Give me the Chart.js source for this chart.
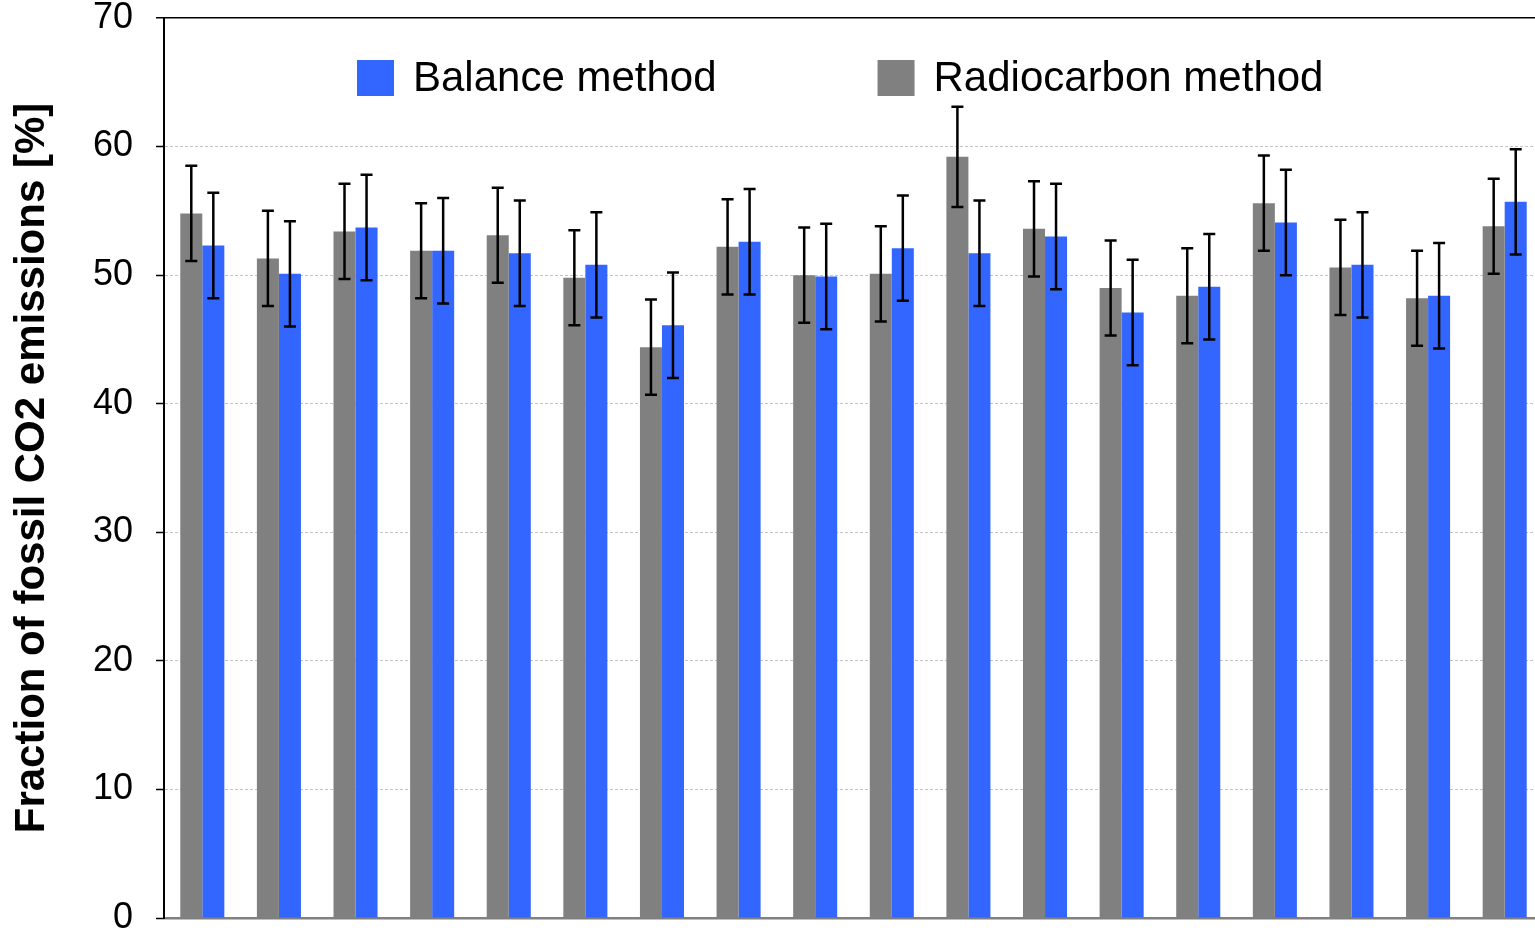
<!DOCTYPE html>
<html>
<head>
<meta charset="utf-8">
<script src="https://cdn.jsdelivr.net/npm/chart.js@4.4.1/dist/chart.umd.min.js"></script>
<style>
	html, body { margin: 0; padding: 0; background: #fff; overflow: hidden; }
	#wrap { width: 1545px; height: 937px; }
</style>
</head>
<body>
<div id="wrap"><canvas id="chart" width="1545" height="937"></canvas></div>
<script>
// Sites (no labels are printed on the original x axis)
const categories = ["1", "2", "3", "4", "5", "6", "7", "8", "9", "10", "11", "12", "13", "14", "15", "16", "17", "18"];

// Radiocarbon method (grey) and its uncertainty
const radiocarbon = [54.8, 51.3, 53.4, 51.9, 53.1, 49.8, 44.4, 52.2, 50.0, 50.1, 59.2, 53.6, 49.0, 48.4, 55.6, 50.6, 48.2, 53.8];
const radiocarbonErr = [3.7, 3.7, 3.7, 3.7, 3.7, 3.7, 3.7, 3.7, 3.7, 3.7, 3.9, 3.7, 3.7, 3.7, 3.7, 3.7, 3.7, 3.7];

// Balance method (blue) and its uncertainty
const balance = [52.3, 50.1, 53.7, 51.9, 51.7, 50.8, 46.1, 52.6, 49.9, 52.1, 51.7, 53.0, 47.1, 49.1, 54.1, 50.8, 48.4, 55.7];
const balanceErr = [4.1, 4.1, 4.1, 4.1, 4.1, 4.1, 4.1, 4.1, 4.1, 4.1, 4.1, 4.1, 4.1, 4.1, 4.1, 4.1, 4.1, 4.1];

const yTicks = [0, 10, 20, 30, 40, 50, 60, 70];

// error bars drawn from each bar element and the y scale
const errorBars = {
	id: "errorBars",
	afterDatasetsDraw(chart) {
		const ctx = chart.ctx;
		const y = chart.scales.y;
		ctx.save();
		ctx.strokeStyle = "#000";
		ctx.lineWidth = 2.5;
		chart.data.datasets.forEach((ds, di) => {
			const meta = chart.getDatasetMeta(di);
			meta.data.forEach((bar, i) => {
				const v = ds.data[i];
				const e = ds.errors[i];
				const top = y.getPixelForValue(v + e);
				const bot = y.getPixelForValue(v - e);
				ctx.beginPath();
				ctx.moveTo(bar.x, top);
				ctx.lineTo(bar.x, bot);
				ctx.moveTo(bar.x - 6, top);
				ctx.lineTo(bar.x + 6, top);
				ctx.moveTo(bar.x - 6, bot);
				ctx.lineTo(bar.x + 6, bot);
				ctx.stroke();
			});
		});
		ctx.restore();
	},
};

// legend inside the plot, blue item first
const insideLegend = {
	id: "insideLegend",
	afterDraw(chart) {
		const ctx = chart.ctx;
		const area = chart.chartArea;
		const items = chart.data.datasets.slice().reverse();
		let x = area.left + 193;
		const yMid = area.top + 60;
		ctx.save();
		ctx.font = "42px 'Liberation Sans', Arial, sans-serif";
		ctx.textBaseline = "middle";
		ctx.textAlign = "left";
		items.forEach((ds) => {
			ctx.fillStyle = ds.backgroundColor;
			ctx.fillRect(x, yMid - 18, 37, 36);
			ctx.fillStyle = "#000";
			ctx.fillText(ds.label, x + 56, yMid + 1);
			x += 56 + ctx.measureText(ds.label).width + 161;
		});
		ctx.restore();
	},
};

const chart = new Chart(document.getElementById("chart").getContext("2d"), {
	type: "bar",
	data: {
		labels: categories,
		datasets: [
			{
				label: "Radiocarbon method",
				data: radiocarbon,
				errors: radiocarbonErr,
				backgroundColor: "#808080",
				categoryPercentage: 0.575,
				barPercentage: 1.0,
			},
			{
				label: "Balance method",
				data: balance,
				errors: balanceErr,
				backgroundColor: "#3366ff",
				categoryPercentage: 0.575,
				barPercentage: 1.0,
			},
		],
	},
	options: {
		responsive: false,
		animation: false,
		devicePixelRatio: 1,
		layout: {
			padding: { top: 0, right: 2, bottom: 0, left: 0 },
		},
		plugins: {
			legend: { display: false },
			tooltip: { enabled: false },
		},
		scales: {
			x: {
				grid: { display: false },
				ticks: { display: false },
				border: { color: "#808080", width: 2.5 },
			},
			y: {
				min: 0,
				max: 70,
				afterBuildTicks: (scale) => {
					scale.ticks = yTicks.map((v) => ({ value: v }));
				},
				afterFit: (scale) => {
					scale.width = 164;
					scale.paddingTop = 18;
					scale.paddingBottom = 19;
				},
				ticks: {
					color: "#000",
					padding: 23,
					font: { family: "'Liberation Sans', Arial, sans-serif", size: 36, lineHeight: 1 },
				},
				grid: {
					color: (c) => (c.tick && c.tick.value === 70 ? "#000" : c.tick && c.tick.value === 0 ? "rgba(0,0,0,0)" : "#c4c4c4"),
					lineWidth: (c) => (c.tick && c.tick.value === 70 ? 1.5 : 1),
					tickColor: "#000",
					tickLength: 8,
					tickWidth: 1.5,
				},
				border: {
					color: "#000",
					width: 2,
					dash: (c) => (c.tick && c.tick.value === 70 ? [] : [3, 2]),
				},
				title: {
					display: true,
					text: "Fraction of fossil CO2 emissions [%]",
					color: "#000",
					padding: { top: 7, bottom: 0 },
					font: { family: "'Liberation Sans', Arial, sans-serif", size: 42, weight: "bold" },
				},
			},
		},
	},
	plugins: [errorBars, insideLegend],
});
</script>
</body>
</html>
